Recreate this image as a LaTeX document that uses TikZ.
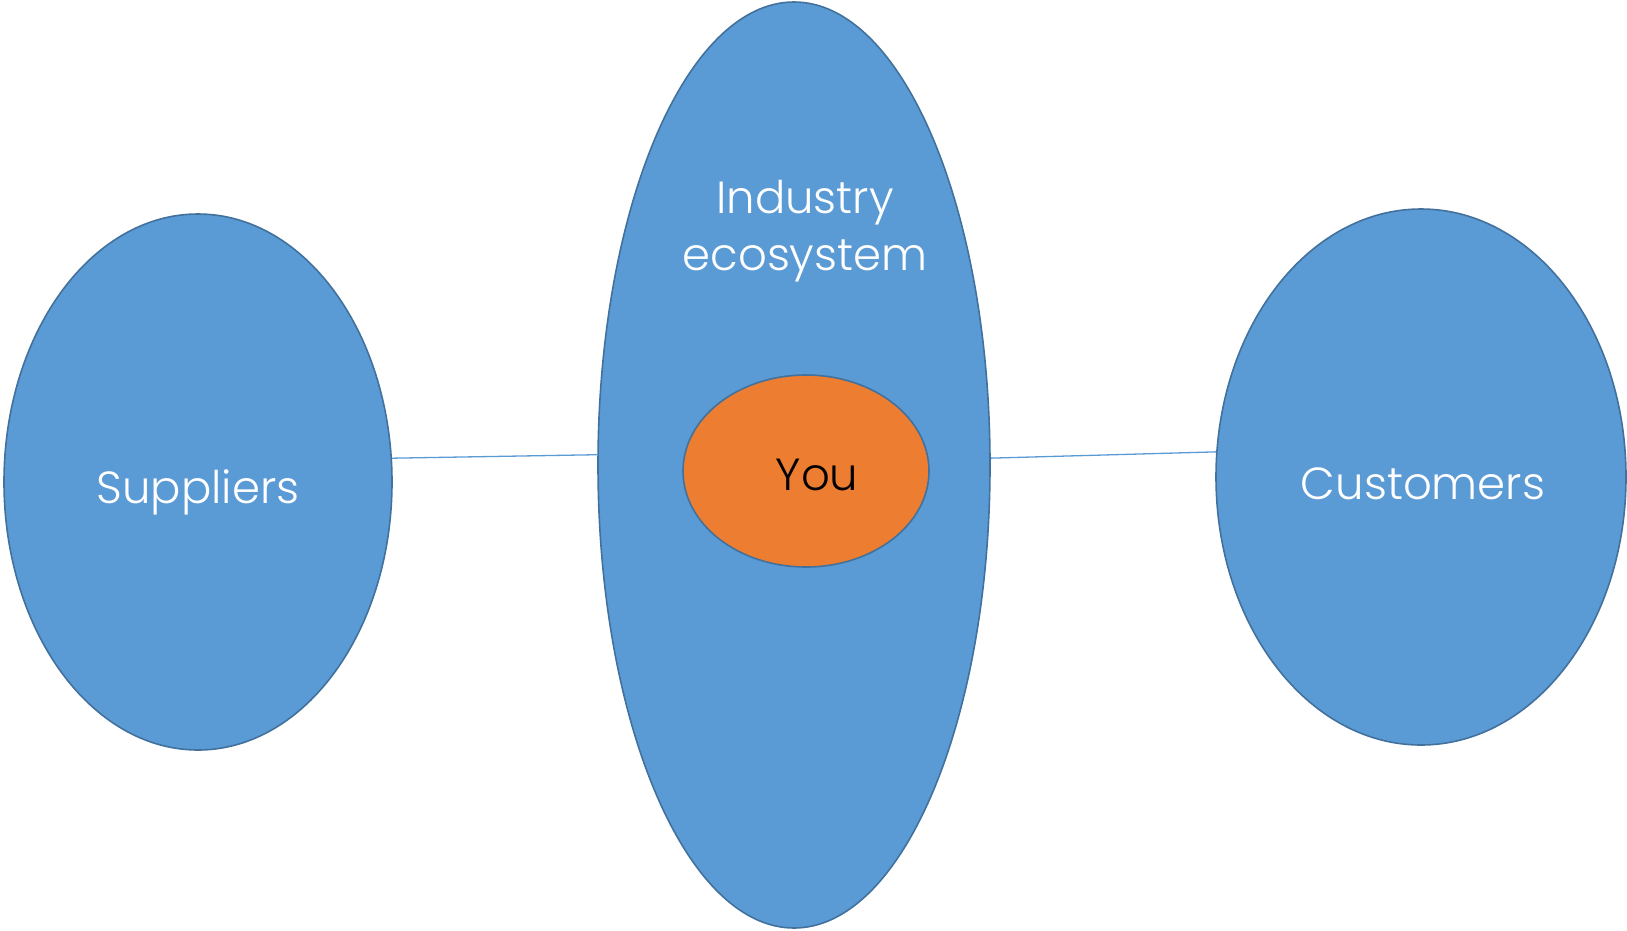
\documentclass[tikz,border=0pt]{standalone}
\usepackage{fontspec}
\setmainfont{Poppins Light}
\usetikzlibrary{shapes.geometric}
\definecolor{blfill}{HTML}{5B9BD5}
\definecolor{bledge}{HTML}{41719C}
\definecolor{orfill}{HTML}{ED7D31}
\tikzset{
  blob/.style={ellipse, draw=bledge, line width=1.6pt, fill=blfill, inner sep=0pt},
  you/.style={ellipse, draw=bledge, line width=1.6pt, fill=orfill, inner sep=0pt},
  lbl/.style={font=\fontsize{45}{57}\selectfont, text=white, align=center},
  link/.style={draw=blfill, line width=1.3pt}
}
\begin{document}
\begin{tikzpicture}[x=1pt,y=-1pt]
\useasboundingbox (0,0) rectangle (1627,930);
\node[blob, minimum width=388pt, minimum height=536pt] (sup) at (198,482) {};
\node[blob, minimum width=392pt, minimum height=926pt] (eco) at (794,465) {};
\node[blob, minimum width=410pt, minimum height=536pt] (cus) at (1421,477) {};
\node[you, minimum width=246pt, minimum height=192pt] (youn) at (806,471) {};
\draw[link] (sup.7.3) -- (eco.177);
\draw[link] (eco.2.2) -- (cus.173.6);
\node[lbl, anchor=base] (tsup) at (198,503) {Suppliers};
\node[lbl, anchor=base] (tcus) at (1423,499) {Customers};
\node[lbl] (teco) at (805,231) {Industry\\ecosystem};
\node[lbl, text=black, anchor=base] (tyou) at (817,490) {You};
\end{tikzpicture}
\end{document}
